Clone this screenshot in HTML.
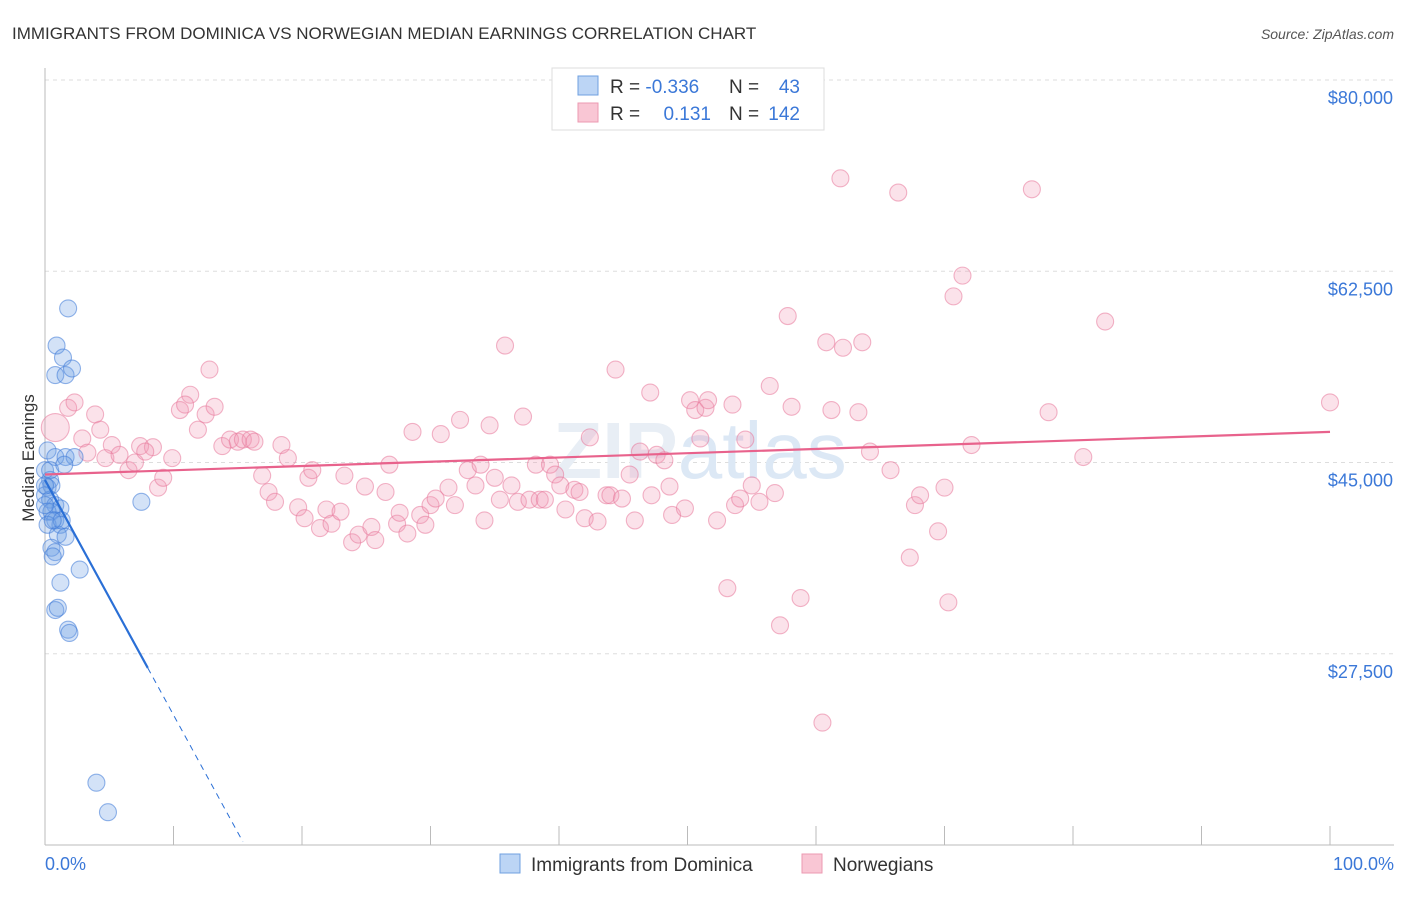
<!DOCTYPE html>
<html><head><meta charset="utf-8"><style>
body{margin:0;background:#fff;font-family:"Liberation Sans",sans-serif}
svg text{font-family:"Liberation Sans",sans-serif}
</style></head><body>
<svg width="1406" height="892">
<text x="12" y="39" font-size="17" fill="#333">IMMIGRANTS FROM DOMINICA VS NORWEGIAN MEDIAN EARNINGS CORRELATION CHART</text>
<text x="1394" y="39" font-size="14" fill="#555" text-anchor="end" font-style="italic">Source: ZipAtlas.com</text>
<g id="grid"></g>
<text x="700" y="478" font-size="80" fill="#e8eef5" text-anchor="middle" font-weight="bold">ZIP<tspan fill="#dce8f5" font-weight="normal">atlas</tspan></text>
<line x1="45" y1="68" x2="45" y2="845" stroke="#bbb"/>
<line x1="45" y1="845" x2="1394" y2="845" stroke="#bbb"/>
<g id="ticks"></g>
<g id="pts"></g>
<g id="trend"></g>
<text transform="translate(34,458) rotate(-90)" font-size="17" fill="#333" text-anchor="middle">Median Earnings</text>
<text x="45" y="870" font-size="18" fill="#3b78d8">0.0%</text>
<text x="1394" y="870" font-size="18" fill="#3b78d8" text-anchor="end">100.0%</text>
<g>
<rect x="552" y="68" width="272" height="62" fill="#fff" stroke="#ddd"/>
<rect x="578" y="76" width="20" height="19" fill="#bcd5f5" stroke="#6fa0e0"/>
<rect x="578" y="103" width="20" height="19" fill="#f9c6d4" stroke="#ec9ab2"/>
<text x="610" y="93" font-size="19" fill="#333">R = <tspan fill="#3b78d8">-0.336</tspan></text>
<text x="729" y="93" font-size="19" fill="#333">N = </text><text x="800" y="93" font-size="19" fill="#3b78d8" text-anchor="end">43</text>
<text x="610" y="120" font-size="19" fill="#333">R = </text><text x="711" y="120" font-size="19" fill="#3b78d8" text-anchor="end">0.131</text>
<text x="729" y="120" font-size="19" fill="#333">N = </text><text x="800" y="120" font-size="19" fill="#3b78d8" text-anchor="end">142</text>
</g>
<g>
<rect x="500" y="854" width="20" height="19" fill="#bcd5f5" stroke="#6fa0e0"/>
<text x="531" y="871" font-size="19" fill="#333">Immigrants from Dominica</text>
<rect x="802" y="854" width="20" height="19" fill="#f9c6d4" stroke="#ec9ab2"/>
<text x="833" y="871" font-size="19" fill="#333">Norwegians</text>
</g>
</svg>
<script>
const yTicks=[27500,45000,62500,80000];
const yTickLabels=["$27,500","$45,000","$62,500","$80,000"];
const xTicks=[0,10,20,30,40,50,60,70,80,90,100];
const pinkX=[0.8,1.8,2.3,3.9,2.9,4.3,3.3,5.2,6.5,4.7,5.8,7.0,7.4,8.4,7.8,8.8,9.2,9.9,11.3,10.5,10.9,11.9,12.5,12.8,13.2,13.8,14.4,15.0,15.4,16.0,16.3,16.9,17.4,17.9,18.4,18.9,19.7,20.2,20.5,20.8,21.4,21.9,22.3,23.0,23.3,23.9,24.4,24.9,25.4,25.7,26.5,26.8,27.4,27.6,28.2,28.6,29.2,29.6,30.0,30.4,30.8,31.4,31.9,32.3,32.9,33.5,33.9,34.2,34.6,35.0,35.4,35.8,36.3,36.8,37.2,37.7,38.2,38.5,38.9,39.3,39.7,40.1,40.5,41.2,41.6,42.0,42.4,43.0,43.7,44.0,44.4,44.9,45.5,45.9,46.3,47.1,47.2,47.6,48.2,48.6,48.8,49.8,50.2,50.6,51.0,51.4,51.6,52.3,53.1,53.5,53.7,54.1,54.5,55.0,55.6,56.4,56.8,57.2,57.8,58.1,58.8,60.5,60.8,61.2,61.9,62.1,63.3,63.6,64.2,65.8,66.4,67.3,67.7,68.1,69.5,70.0,70.3,70.7,71.4,72.1,76.8,78.1,80.8,82.5,100];
const pinkY=[48.2,50.0,50.5,49.4,47.2,48.0,45.9,46.6,44.3,45.4,45.7,45.0,46.5,46.4,46.0,42.7,43.6,45.4,51.2,49.8,50.3,48.0,49.4,53.5,50.1,46.5,47.1,46.9,47.1,47.1,46.9,43.8,42.3,41.4,46.6,45.4,40.9,39.9,43.6,44.3,39.0,40.7,39.4,40.5,43.8,37.7,38.4,42.8,39.1,37.9,42.3,44.8,39.4,40.4,38.5,47.8,40.2,39.3,41.1,41.7,47.6,42.7,41.1,48.9,44.3,42.9,44.8,39.7,48.4,43.6,41.6,55.7,42.9,41.4,49.2,41.6,44.8,41.6,41.6,44.8,43.9,42.9,40.7,42.5,42.3,39.9,47.3,39.6,42.0,42.0,53.5,41.7,43.9,39.7,46.0,51.4,42.0,45.7,45.2,42.8,40.2,40.8,50.7,49.8,47.2,50.0,50.7,39.7,33.5,50.3,41.1,41.7,47.1,42.9,41.4,52.0,42.2,30.1,58.4,50.1,32.6,21.2,56.0,49.8,71.0,55.5,49.6,56.0,46.0,44.3,69.7,36.3,41.1,42.0,38.7,42.7,32.2,60.2,62.1,46.6,70.0,49.6,45.5,57.9,50.5];
const blueX=[1.8,0.9,1.4,0.8,1.6,2.1,0.2,0.8,1.6,2.3,0,0.4,0.2,0.5,0,0.4,0.8,1.2,0.2,0.5,0.8,1.2,0.2,1.0,1.6,0.5,0.8,0.6,7.5,2.7,1.2,0.8,1.0,1.8,1.9,4.0,4.9,0,0.4,1.3,0,0.6,1.5];
const blueY=[59.1,55.7,54.6,53.0,53.0,53.6,46.1,45.5,45.5,45.5,44.3,43.4,42.7,42.9,42.0,41.6,41.1,40.8,40.5,40.5,39.7,39.3,39.3,38.4,38.2,37.2,36.8,36.4,41.4,35.2,34.0,31.5,31.7,29.7,29.4,15.7,13.0,42.9,44.3,39.7,41.1,39.7,44.8];
const pinkTrend=[43.9,0.039];
const blueTrend=[43.4,-2.15];
const blueSolidEnd=8.0, blueDashEnd=15.4;

const NS="http://www.w3.org/2000/svg";
const xs=v=>45+v*12.85;
const ys=k=>845-(k-10)*765/70;
function mk(t,a,p){const e=document.createElementNS(NS,t);for(const k in a)e.setAttribute(k,a[k]);p.appendChild(e);return e;}
const grid=document.getElementById('grid'),ticks=document.getElementById('ticks'),pts=document.getElementById('pts'),tr=document.getElementById('trend');
yTicks.forEach((v,i)=>{
 const l=mk('line',{x1:45,x2:1394,y1:ys(v/1000),y2:ys(v/1000),stroke:'#ddd','stroke-dasharray':'4,4'},grid);
 
 
 const t=mk('text',{x:1393,y:ys(v/1000)+24,'font-size':18,fill:'#3b78d8','text-anchor':'end'},ticks);
 t.textContent=yTickLabels[i];
 
 
});
const tl=mk('line',{x1:45,x2:1394,y1:80,y2:80,stroke:'#ddd','stroke-dasharray':'4,4'},grid);


xTicks.forEach(v=>{
 const l=mk('line',{x1:xs(v),x2:xs(v),y1:826,y2:845,stroke:'#bbb'},ticks);
 
 
});
pinkX.forEach((x,i)=>{
 const big=i===0;
 const c=mk('circle',{cx:xs(x),cy:ys(pinkY[i]),r:big?14:8.5,fill:'rgba(242,150,178,0.28)',stroke:'rgba(232,120,155,0.55)','stroke-width':1.1},pts);
 
 
});
blueX.forEach((x,i)=>{
 const c=mk('circle',{cx:xs(x),cy:ys(blueY[i]),r:8.5,fill:'rgba(110,160,230,0.3)',stroke:'rgba(60,120,215,0.55)','stroke-width':1.1},pts);
 
 
});
const pl=mk('line',{x1:xs(0),y1:ys(pinkTrend[0]),x2:xs(100),y2:ys(pinkTrend[0]+pinkTrend[1]*100),stroke:'#e8628c','stroke-width':2.2},tr);


const bl=mk('line',{x1:xs(0),y1:ys(blueTrend[0]),x2:xs(blueSolidEnd),y2:ys(blueTrend[0]+blueTrend[1]*blueSolidEnd),stroke:'#2a6fd6','stroke-width':2.2},tr);


const bd=mk('line',{x1:xs(blueSolidEnd),y1:ys(blueTrend[0]+blueTrend[1]*blueSolidEnd),x2:xs(blueDashEnd),y2:ys(blueTrend[0]+blueTrend[1]*blueDashEnd),stroke:'#2a6fd6','stroke-width':1,'stroke-dasharray':'6,5'},tr);


</script>
</body></html>
